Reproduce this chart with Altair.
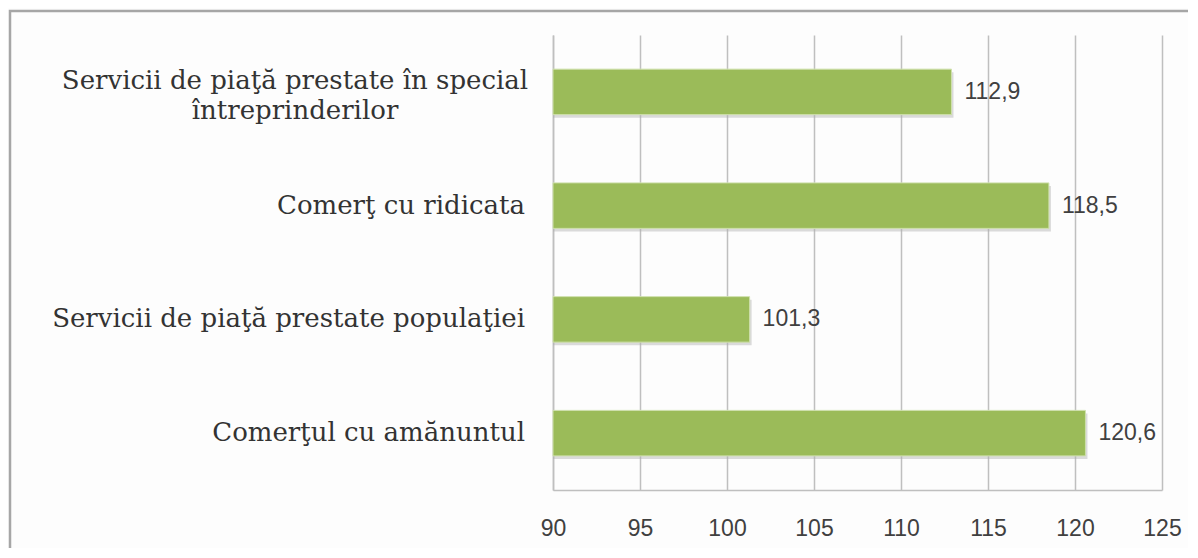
import altair as alt
import pandas as pd

categories = [
    "Servicii de piaţă prestate în special întreprinderilor",
    "Comerţ cu ridicata",
    "Servicii de piaţă prestate populaţiei",
    "Comerţul cu amănuntul",
]
values = [112.9, 118.5, 101.3, 120.6]
label_lines = [
    "Servicii de piaţă prestate în special|întreprinderilor",
    "Comerţ cu ridicata",
    "Servicii de piaţă prestate populaţiei",
    "Comerţul cu amănuntul",
]
x_ticks = [90, 95, 100, 105, 110, 115, 120, 125]

df = pd.DataFrame({"cat": categories, "v": values, "label": label_lines})

GRID = "#BFBFBF"
TXT = "#404040"

y_enc = alt.Y(
    "cat:N",
    sort=categories,
    scale=alt.Scale(paddingInner=0.6, paddingOuter=0.3),
    axis=alt.Axis(labels=False, ticks=False, domainColor=GRID, domainWidth=1.5,
                  title=None, grid=False),
)
x_enc = alt.X(
    "v:Q",
    scale=alt.Scale(domain=[90, 125], zero=False, nice=False),
    axis=alt.Axis(values=x_ticks, grid=True, gridColor=GRID, gridWidth=1.5,
                  ticks=False, domainColor=GRID, domainWidth=1.5,
                  labelFlush=False, labelOverlap=False,
                  labelPadding=27, labelFontSize=23, labelFont="Liberation Sans",
                  labelColor=TXT, title=None),
)

base = alt.Chart(df)

border = alt.Chart(alt.Data(values=[{"k": 1}])).mark_rect(
    fill="transparent", stroke="#A6A6A6", strokeWidth=2.5
).encode(x=alt.value(-543), x2=alt.value(800), y=alt.value(-24), y2=alt.value(700))

shadow = base.mark_bar(color="#b0b0b0", opacity=0.45, xOffset=2, yOffset=3).encode(
    x=x_enc, x2=alt.X2(datum=90), y=y_enc
)
bars = base.mark_bar(color="#9BBB59", stroke="#cfe0ad", strokeWidth=1).encode(
    x=x_enc, x2=alt.X2(datum=90), y=y_enc
)
vals = base.mark_text(align="left", baseline="middle", dx=13, fontSize=23,
                      font="Liberation Sans", color=TXT).encode(
    x="v:Q", y=alt.Y("cat:N", sort=categories), text="lab:N"
).transform_calculate(lab="replace(format(datum.v, '.1f'), '.', ',')")

labels_single = base.mark_text(align="right", baseline="middle", fontSize=26,
                               font="DejaVu Serif", color="#333333").encode(
    x=alt.value(-28), y=alt.Y("cat:N", sort=categories), text="label:N"
).transform_filter("indexof(datum.label, '|') < 0")

labels_multi = base.mark_text(align="center", baseline="middle", fontSize=26,
                              font="DejaVu Serif", color="#333333", lineHeight=30,
                              dy=-11).encode(
    x=alt.value(-258), y=alt.Y("cat:N", sort=categories), text="t:N"
).transform_filter("indexof(datum.label, '|') >= 0").transform_calculate(
    t="split(datum.label, '|')"
)

chart = alt.layer(border, shadow, bars, vals, labels_single, labels_multi).properties(
    width=609, height=455,
    autosize=alt.AutoSizeParams(type="none"),
    padding={"left": 545, "top": 27, "right": 26, "bottom": 58},
    background="#FDFDFD",
).configure_view(strokeWidth=0)

chart.save("out.html", embed_options={"renderer": "svg", "actions": False})
